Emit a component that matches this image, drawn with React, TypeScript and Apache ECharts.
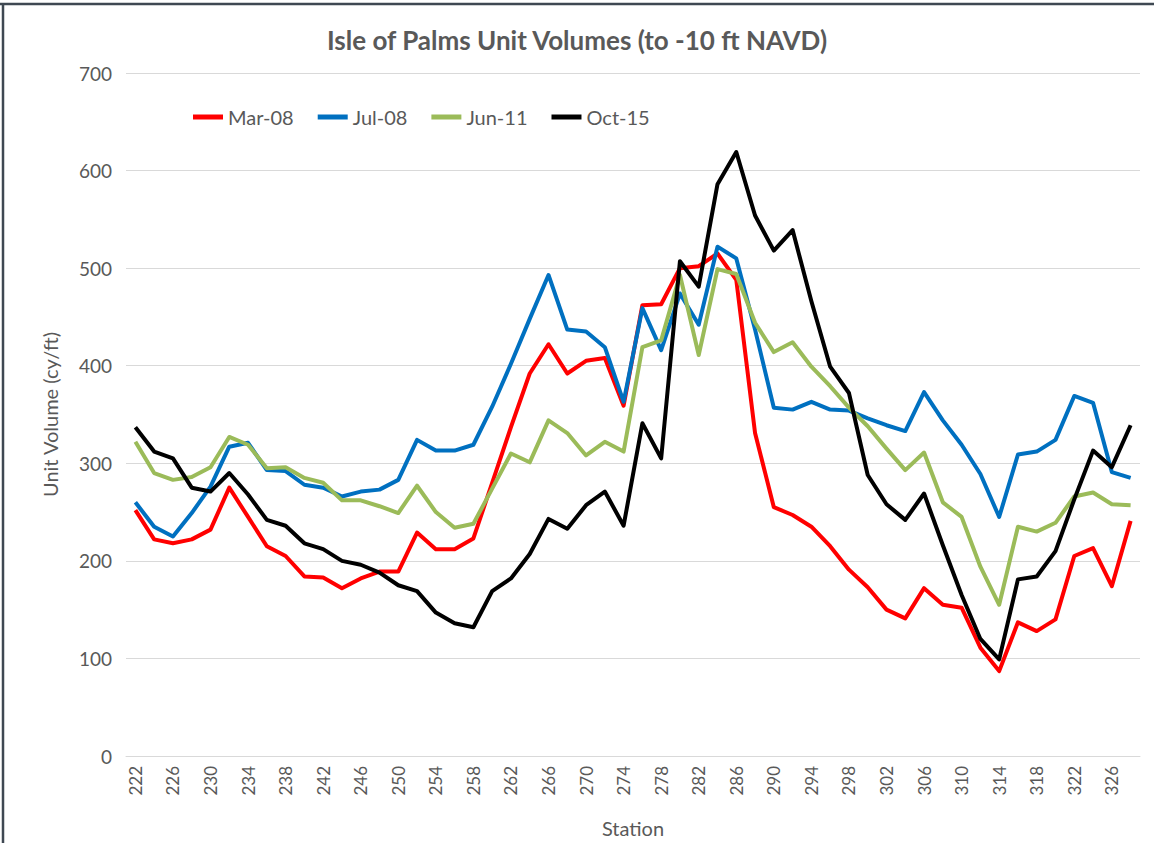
import React, { useEffect, useRef } from "react";
import * as echarts from "echarts";

const stations: string[] = [];
for (let s = 222; s <= 328; s += 2) stations.push(String(s));

const mar08 = [252, 222, 218, 222, 232, 275, 245, 215, 205, 184, 183, 172, 182, 189, 189, 229, 212, 212, 223, 280, 337, 392, 422, 392, 405, 408, 359, 462, 463, 500, 502, 515, 488, 331, 255, 247, 235, 215, 191, 173, 150, 141, 172, 155, 152, 111, 87, 137, 128, 140, 205, 213, 174, 241];
const jul08 = [260, 235, 225, 249, 276, 317, 321, 293, 292, 278, 275, 266, 271, 273, 283, 324, 313, 313, 319, 358, 402, 448, 493, 437, 435, 419, 363, 459, 416, 474, 442, 522, 510, 437, 357, 355, 363, 355, 354, 346, 339, 333, 373, 344, 319, 289, 245, 309, 312, 324, 369, 362, 291, 285];
const jun11 = [322, 290, 283, 286, 296, 327, 319, 295, 296, 285, 280, 262, 262, 256, 249, 277, 250, 234, 238, 274, 310, 301, 344, 331, 308, 322, 312, 419, 426, 493, 411, 499, 494, 444, 414, 424, 399, 379, 357, 338, 315, 293, 311, 260, 245, 194, 155, 235, 230, 239, 266, 270, 258, 257];
const oct15 = [337, 312, 305, 275, 271, 290, 268, 242, 236, 218, 212, 200, 196, 188, 175, 169, 147, 136, 132, 169, 182, 207, 243, 233, 257, 271, 236, 341, 305, 507, 481, 586, 619, 554, 518, 539, 466, 399, 372, 288, 258, 242, 269, 216, 165, 120, 99, 181, 184, 210, 263, 313, 296, 339];

const seriesNames = ["Mar-08", "Jul-08", "Jun-11", "Oct-15"];
const seriesData = [mar08, jul08, jun11, oct15];
const seriesColors = ["#FF0000", "#0070C0", "#9BBB59", "#000000"];

const FONT = "Lato, 'Open Sans', sans-serif";
const GRAY = "#595959";

export default function App() {
  const ref = useRef<HTMLDivElement>(null);
  useEffect(() => {
    document.body.style.margin = "0";
    const chart = echarts.init(ref.current!, null, { renderer: "svg" });
    chart.setOption({
      animation: false,
      backgroundColor: "#ffffff",
      title: {
        text: "Isle of Palms Unit Volumes (to -10 ft NAVD)",
        left: "center",
        top: 22,
        textStyle: { fontFamily: FONT, fontSize: 26, fontWeight: "bold", color: GRAY },
      },
      legend: {
        left: 188,
        top: 102,
        itemGap: 24,
        itemWidth: 30,
        itemHeight: 5,
        icon: "rect",
        textStyle: { fontFamily: FONT, fontSize: 20, color: GRAY },
        data: seriesNames,
      },
      grid: { left: 126, right: 14, top: 73, bottom: 81, containLabel: false },
      xAxis: {
        type: "category",
        data: stations,
        boundaryGap: true,
        name: "Station",
        nameLocation: "middle",
        nameGap: 62,
        nameTextStyle: { fontFamily: FONT, fontSize: 20, color: GRAY },
        axisLine: { lineStyle: { color: "#D9D9D9", width: 1 } },
        axisTick: { show: false },
        axisLabel: {
          interval: 1,
          rotate: 90,
          fontFamily: FONT,
          fontSize: 17,
          color: GRAY,
          margin: 10,
        },
      },
      yAxis: {
        type: "value",
        min: 0,
        max: 700,
        interval: 100,
        name: "Unit Volume (cy/ft)",
        nameLocation: "middle",
        nameGap: 66,
        nameTextStyle: { fontFamily: FONT, fontSize: 20, color: GRAY },
        axisLine: { show: false },
        axisTick: { show: false },
        axisLabel: { fontFamily: FONT, fontSize: 19, color: GRAY, margin: 14 },
        splitLine: { lineStyle: { color: "#D9D9D9", width: 1 } },
      },
      graphic: [
        { type: "line", shape: { x1: 0, y1: 4, x2: 1154, y2: 4 }, style: { stroke: "#3F4852", lineWidth: 2.5 } },
        { type: "line", shape: { x1: 3, y1: 4, x2: 3, y2: 843 }, style: { stroke: "#3F4852", lineWidth: 2.5 } },
      ],
      series: seriesNames.map((n, k) => ({
        name: n,
        type: "line",
        data: seriesData[k],
        showSymbol: false,
        symbol: "none",
        lineStyle: { color: seriesColors[k], width: 4, join: "round" },
        itemStyle: { color: seriesColors[k] },
      })),
    });
    return () => chart.dispose();
  }, []);
  return <div ref={ref} style={{ width: 1154, height: 843 }} />;
}
